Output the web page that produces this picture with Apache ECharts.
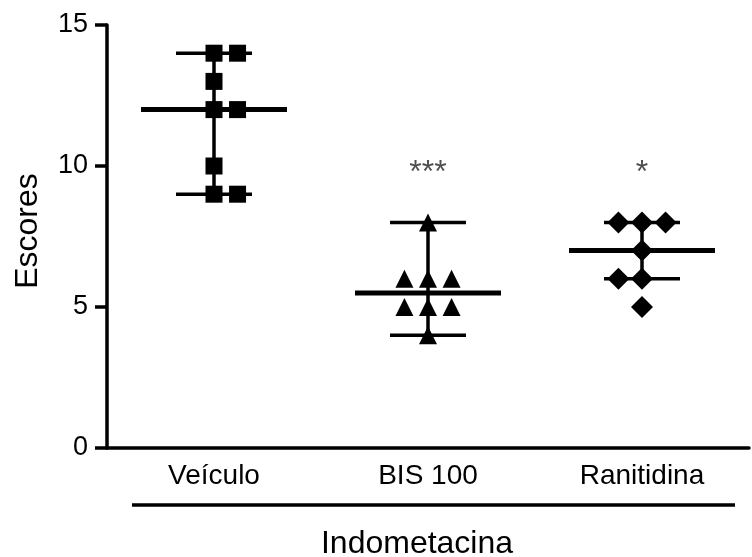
<!DOCTYPE html>
<html>
<head>
<meta charset="utf-8">
<script src="https://cdn.jsdelivr.net/npm/echarts@6/dist/echarts.min.js"></script>
<style>
html,body{margin:0;padding:0;background:#fff;}
#chart{width:752px;height:557px;}
</style>
</head>
<body>
<div id="chart"></div>
<script>
const categories = ['Veículo', 'BIS 100', 'Ranitidina'];
const veiculo = [14, 14, 13, 12, 12, 10, 9, 9];
const bis100 = [8, 6, 6, 6, 5, 5, 5, 4];
const ranitidina = [8, 8, 8, 7, 6, 6, 5];
// column slot of each point in the dot plot (-1 left, 0 centre, 1 right)
const veiculoSlot = [0, 1, 0, 0, 1, 0, 0, 1];
const bis100Slot = [0, -1, 0, 1, -1, 0, 1, 0];
const ranitidinaSlot = [-1, 0, 1, 0, -1, 0, 0];
const medians = [12, 5.5, 7];
const lowers = [9, 4, 6];
const uppers = [14, 8, 8];
const significance = ['', '***', '*'];
const yTicks = [0, 5, 10, 15];
const groupTitle = 'Indometacina';
const yTitle = 'Escores';

const FONT = "'Liberation Sans', Arial, sans-serif";
const SLOT = 0.11;
const SIG_GAP = 1.73;

function pts(vals, slots, ci) {
  return vals.map((v, i) => [ci + 0.5 + slots[i] * SLOT, v]);
}

const chart = echarts.init(document.getElementById('chart'), null, {renderer: 'canvas'});

const summaryData = categories.map((c, i) => [i + 0.5, medians[i], lowers[i], uppers[i]]);

const option = {
  animation: false,
  backgroundColor: '#fff',
  grid: {left: 107, top: 25, bottom: 109, right: -9},
  xAxis: {
    type: 'value', min: 0, max: 3, interval: 0.5,
    axisLine: {show: true, onZero: false, lineStyle: {color: '#000', width: 3.5}},
    axisTick: {show: false},
    splitLine: {show: false},
    axisLabel: {
      margin: 14, color: '#000', fontFamily: FONT, fontSize: 28,
      showMinLabel: true, showMaxLabel: true,
      formatter: v => (Math.abs(v % 1 - 0.5) < 1e-6 ? categories[Math.floor(v)] : '')
    }
  },
  yAxis: {
    type: 'value', min: yTicks[0], max: yTicks[yTicks.length - 1], interval: yTicks[1] - yTicks[0],
    axisLine: {show: true, lineStyle: {color: '#000', width: 3.5}},
    axisTick: {show: true, length: 12, lineStyle: {color: '#000', width: 3.5}},
    splitLine: {show: false},
    axisLabel: {margin: 19, color: '#000', fontFamily: FONT, fontSize: 27}
  },
  graphic: [
    {
      type: 'line', shape: {x1: 132, y1: 505, x2: 735, y2: 505},
      style: {stroke: '#000', lineWidth: 3.5}, silent: true
    },
    {
      type: 'text', x: 417, y: 528, silent: true,
      style: {text: groupTitle, fill: '#000', font: '32px ' + FONT, textAlign: 'center', textVerticalAlign: 'top'}
    },
    {
      type: 'text', x: 28, y: 231, rotation: Math.PI / 2, silent: true,
      style: {text: yTitle, fill: '#000', font: '32px ' + FONT, textAlign: 'center', textVerticalAlign: 'middle'}
    }
  ],
  series: [
    {
      type: 'custom', name: 'summary', data: summaryData, z: 3,
      renderItem: function (params, api) {
        const x = api.value(0);
        const m = api.coord([x, api.value(1)]);
        const lo = api.coord([x, api.value(2)]);
        const hi = api.coord([x, api.value(3)]);
        const black = {stroke: '#000', lineWidth: 3.5};
        return {
          type: 'group',
          children: [
            {type: 'line', shape: {x1: hi[0], y1: hi[1], x2: lo[0], y2: lo[1]}, style: black},
            {type: 'line', shape: {x1: hi[0] - 38, y1: hi[1], x2: hi[0] + 38, y2: hi[1]}, style: black},
            {type: 'line', shape: {x1: lo[0] - 38, y1: lo[1], x2: lo[0] + 38, y2: lo[1]}, style: black},
            {type: 'line', shape: {x1: m[0] - 73, y1: m[1], x2: m[0] + 73, y2: m[1]}, style: {stroke: '#000', lineWidth: 5}}
          ]
        };
      }
    },
    {type: 'scatter', name: categories[0], data: pts(veiculo, veiculoSlot, 0), symbol: 'rect', symbolSize: 17, itemStyle: {color: '#000', opacity: 1}, z: 4},
    {type: 'scatter', name: categories[1], data: pts(bis100, bis100Slot, 1), symbol: 'triangle', symbolSize: [18, 18], itemStyle: {color: '#000', opacity: 1}, z: 4},
    {type: 'scatter', name: categories[2], data: pts(ranitidina, ranitidinaSlot, 2), symbol: 'diamond', symbolSize: [22, 22], itemStyle: {color: '#000', opacity: 1}, z: 4},
    {
      type: 'scatter', name: 'sig', symbolSize: 0, z: 5,
      data: categories.map((c, i) => ({value: [i + 0.5, uppers[i] + SIG_GAP], sig: significance[i]})),
      label: {
        show: true, position: 'inside', color: '#222', fontFamily: FONT, fontSize: 32,
        formatter: p => p.data.sig
      }
    }
  ]
};
chart.setOption(option);
</script>
</body>
</html>
